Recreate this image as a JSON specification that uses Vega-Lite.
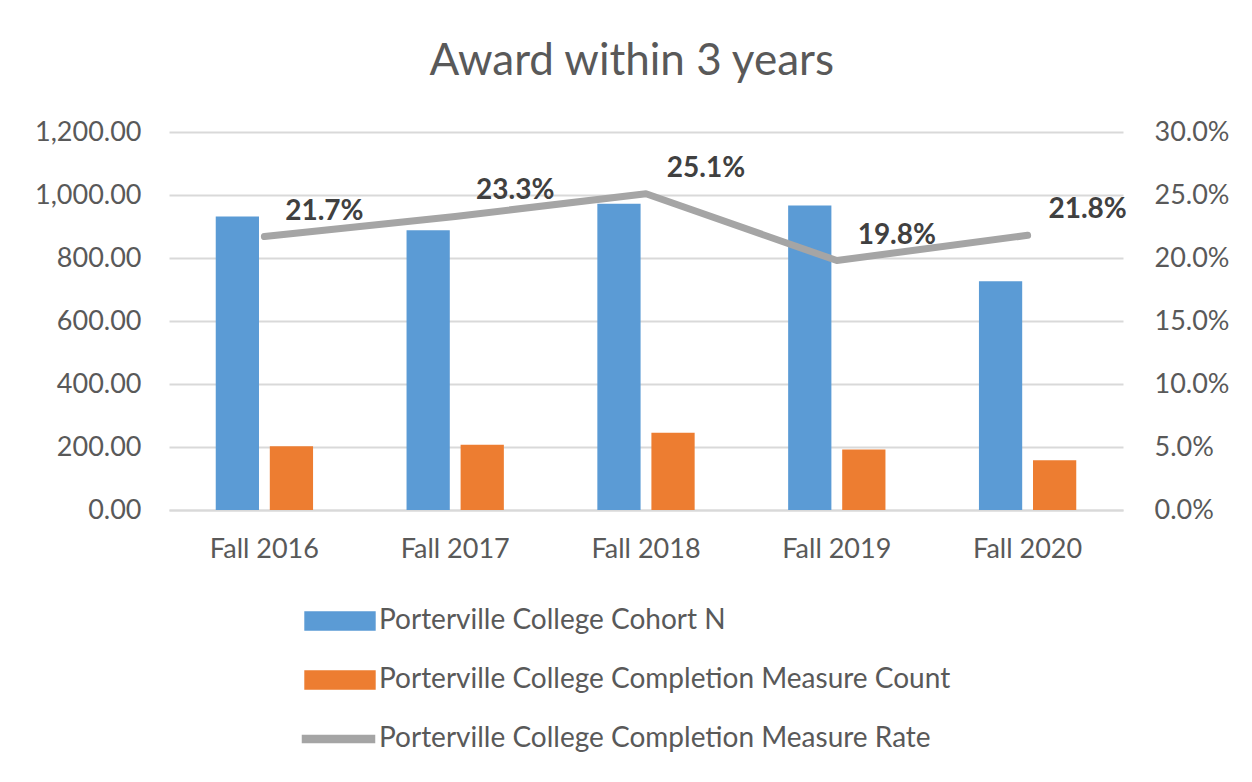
{
  "$schema": "https://vega.github.io/schema/vega-lite/v6.json",
  "width": 954,
  "height": 378,
  "padding": {"left": 34, "top": 40, "right": 25, "bottom": 20},
  "autosize": {"type": "pad"},
  "background": "white",
  "config": {
    "font": "Lato",
    "view": {"stroke": null},
    "axis": {"labelFont": "Lato", "labelColor": "#595959", "labelFontSize": 27, "ticks": false, "title": null}
  },
  "title": {
    "text": "Award within 3 years",
    "fontSize": 44,
    "font": "Lato",
    "fontWeight": "normal",
    "color": "#595959",
    "frame": "bounds",
    "anchor": "middle",
    "offset": 34
  },
  "data": {
    "values": [
      {"term": "Fall 2016", "series": "Porterville College Cohort N", "value": 932},
      {"term": "Fall 2016", "series": "Porterville College Completion Measure Count", "value": 202},
      {"term": "Fall 2016", "series": "Porterville College Completion Measure Rate", "value": 0.217},
      {"term": "Fall 2017", "series": "Porterville College Cohort N", "value": 888},
      {"term": "Fall 2017", "series": "Porterville College Completion Measure Count", "value": 207},
      {"term": "Fall 2017", "series": "Porterville College Completion Measure Rate", "value": 0.233},
      {"term": "Fall 2018", "series": "Porterville College Cohort N", "value": 972},
      {"term": "Fall 2018", "series": "Porterville College Completion Measure Count", "value": 245},
      {"term": "Fall 2018", "series": "Porterville College Completion Measure Rate", "value": 0.251},
      {"term": "Fall 2019", "series": "Porterville College Cohort N", "value": 967},
      {"term": "Fall 2019", "series": "Porterville College Completion Measure Count", "value": 192},
      {"term": "Fall 2019", "series": "Porterville College Completion Measure Rate", "value": 0.198},
      {"term": "Fall 2020", "series": "Porterville College Cohort N", "value": 726},
      {"term": "Fall 2020", "series": "Porterville College Completion Measure Count", "value": 158},
      {"term": "Fall 2020", "series": "Porterville College Completion Measure Rate", "value": 0.218}
    ]
  },
  "layer": [
    {
      "transform": [{"filter": "datum.series !== 'Porterville College Completion Measure Rate'"}],
      "mark": {"type": "bar"},
      "encoding": {
        "x": {
          "field": "term", "type": "nominal",
          "scale": {"paddingInner": 0.49, "paddingOuter": 0.245},
          "axis": {"labelAngle": 0, "labelPadding": 26, "domainColor": "#D9D9D9", "domainWidth": 2, "grid": false}
        },
        "xOffset": {"field": "series", "type": "nominal", "scale": {"paddingInner": 0.2, "paddingOuter": 0}},
        "y": {
          "field": "value", "type": "quantitative",
          "scale": {"domain": [0, 1200]},
          "axis": {"values": [0, 200, 400, 600, 800, 1000, 1200], "format": ",.2f", "labelPadding": 28, "domain": false, "grid": true, "gridColor": "#D9D9D9", "gridWidth": 2}
        },
        "color": {
          "field": "series", "type": "nominal",
          "scale": {
            "domain": ["Porterville College Cohort N", "Porterville College Completion Measure Count", "Porterville College Completion Measure Rate"],
            "range": ["#5B9BD5", "#ED7D31", "#A5A5A5"]
          },
          "legend": {
            "orient": "none",
            "legendX": 155,
            "legendY": 473,
            "direction": "vertical",
            "title": null,
            "labelFont": "Lato",
            "labelFontSize": 28,
            "labelColor": "#595959",
            "labelLimit": 900,
            "symbolSize": 900,
            "labelOffset": 23,
            "rowPadding": 29,
            "encode": {
              "symbols": {
                "update": {
                  "shape": {"signal": "datum.value === 'Porterville College Completion Measure Rate' ? 'M-2.5,-0.23L2.3,-0.23L2.3,0.23L-2.5,0.23Z' : 'M-2.33,-0.6L2.33,-0.6L2.33,0.6L-2.33,0.6Z'"},
                  "fill": {"signal": "scale('color', datum.value)"},
                  "stroke": {"value": "transparent"},
                  "opacity": {"value": 1},
                  "fillOpacity": {"value": 1}
                }
              }
            }
          }
        }
      }
    },
    {
      "transform": [{"filter": "datum.series === 'Porterville College Completion Measure Rate'"}],
      "layer": [
        {
          "mark": {"type": "line", "strokeWidth": 7, "strokeCap": "round", "strokeJoin": "round"},
          "encoding": {
            "x": {"field": "term", "type": "nominal"},
            "y": {
              "field": "value", "type": "quantitative",
              "scale": {"domain": [0, 0.3]},
              "axis": {"orient": "right", "values": [0, 0.05, 0.1, 0.15, 0.2, 0.25, 0.3], "format": ".1%", "labelPadding": 31, "domain": false, "grid": false}
            },
            "color": {"field": "series", "type": "nominal"}
          }
        },
        {
          "mark": {"type": "text", "dx": 60, "dy": -25, "fontWeight": "bold", "fontSize": 28, "font": "Lato", "color": "#404040"},
          "encoding": {
            "x": {"field": "term", "type": "nominal"},
            "y": {"field": "value", "type": "quantitative"},
            "text": {"field": "value", "type": "quantitative", "format": ".1%"}
          }
        }
      ]
    }
  ],
  "resolve": {"scale": {"y": "independent"}}
}
